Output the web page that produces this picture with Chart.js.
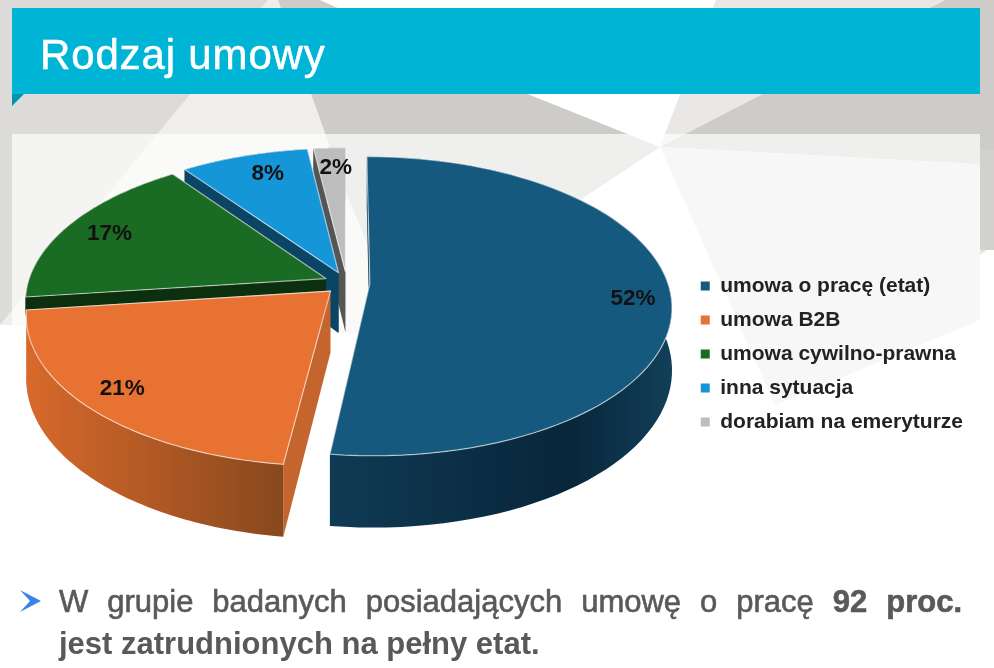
<!DOCTYPE html>
<html lang="pl">
<head>
<meta charset="utf-8">
<title>Rodzaj umowy</title>
<script src="https://cdn.jsdelivr.net/npm/chart.js@4/dist/chart.umd.min.js"></script>
<style>
  html, body { margin: 0; padding: 0; background: #fff; }
  #slide { position: relative; width: 994px; height: 668px; overflow: hidden; font-family: "Liberation Sans", Arial, sans-serif; }
  #bg, #pie { position: absolute; left: 0; top: 0; }
  #title { position: absolute; left: 40px; top: 30px; color: #fff; font-size: 42px; line-height: 50px; letter-spacing: 0.85px; -webkit-text-stroke: 0.5px #fff; }
  .line { position: absolute; left: 59px; color: #595959; font-size: 31px; line-height: 40px; white-space: nowrap; }
  #line1 { top: 582px; width: 903px; white-space: normal; text-align: justify; text-align-last: justify; -webkit-text-stroke: 0.6px #595959; }
  #line2 { top: 624px; font-weight: bold; }
  b { font-weight: bold; }
</style>
</head>
<body>
<div id="slide">
  <svg id="bg" width="994" height="668">
    <rect width="994" height="668" fill="#fff"/>
    <polygon points="268,0 0,325 410,335 345,190 278,0" fill="#efeeec"/>
    <polygon points="0,0 268,0 0,325" fill="#dcdbd9"/>
    <polygon points="278,0 320,0 530,95 660,147 580,200 375,262 345,190" fill="#ceccc8"/>
    <polygon points="716,0 945,0 660,147" fill="#e9e8e6"/>
    <polygon points="945,0 994,0 994,165 660,147" fill="#ceccc8"/>
    <polygon points="660,147 994,165 994,245 980,255 980,320 775,405" fill="#e6e6e5"/>
    <rect x="980" y="150" width="14" height="100" fill="#d3d1ce"/>
    <rect x="12" y="134" width="968" height="534" fill="#fff" fill-opacity="0.68"/>
    <polygon points="12,94 12,106 24,94" fill="#0093b2"/>
    <rect x="12" y="8" width="968" height="86" fill="#00b4d6"/>
    <polygon points="20,590 41,601 20,612 30,601" fill="#3a85e8"/>
  </svg>
  <canvas id="pie" width="994" height="668"></canvas>
  <div id="title">Rodzaj umowy</div>
  <div class="line" id="line1">W grupie badanych posiadających umowę o pracę <b>92 proc.</b></div>
  <div class="line" id="line2">jest zatrudnionych na pełny etat.</div>
</div>
<script>
const categories = ["umowa o pracę (etat)", "umowa B2B", "umowa cywilno-prawna", "inna sytuacja", "dorabiam na emeryturze"];
const shares = [52, 21, 17, 8, 2];
const topColors = ["#155a7e", "#e87231", "#1a6b23", "#1596d8", "#bdbdbd"];
const cutColors = ["#0e3850", "#c4652d", "#0c2f0e", "#0b4565", "#555555"];
const wallLeft = ["#0f3a54", "#d8692b", "#0c2f0e", "#0b4565", "#555555"];
const wallRight = ["#08263a", "#88481e", "#0c2f0e", "#0b4565", "#555555"];
// z tyłu do przodu
const drawOrder = [4, 3, 2, 0, 1];
// zielony: widać tylko wąski pasek ściany, reszta jest schowana za pomarańczowym
const wallHeight = [1, 1, 0.3, 1, 1];
const labelNudge = [[8, 7], [-8, 0], [3, 2], [11, 2], [4, 3]];

const tilt = 0.49;
const persp = 0.15;
const depth = 61;
const pieCenterY = 283;
const labelAt = 0.85;

function project(arc, angle, f, z) {
  const R = arc.outerRadius;
  const mid = (arc.startAngle + arc.endAngle) / 2;
  const off = arc.options.offset;
  const u = (f * R * Math.cos(angle) + off * Math.cos(mid)) / R;
  const v = (f * R * Math.sin(angle) + off * Math.sin(mid)) / R;
  const s = 1 / (1 - persp * v);
  return { x: arc.x + R * u * s, y: pieCenterY + R * tilt * v * s + z * depth * s };
}

function rimPoints(arc, z) {
  const pts = [];
  const n = 80;
  for (let i = 0; i <= n; i++) {
    const a = arc.startAngle + (arc.endAngle - arc.startAngle) * i / n;
    pts.push(project(arc, a, 1, z));
  }
  return pts;
}

function fillPoly(ctx, pts, fill, stroke) {
  ctx.beginPath();
  pts.forEach((p, i) => i ? ctx.lineTo(p.x, p.y) : ctx.moveTo(p.x, p.y));
  ctx.closePath();
  ctx.fillStyle = fill;
  ctx.fill();
  if (stroke) {
    ctx.strokeStyle = stroke;
    ctx.lineWidth = 1.2;
    ctx.stroke();
  }
}

const pie3d = {
  id: "pie3d",
  beforeDatasetDraw(chart) {
    const ctx = chart.ctx;
    const arcs = chart.getDatasetMeta(0).data;
    ctx.save();
    ctx.lineJoin = "round";
    drawOrder.forEach(i => {
      const arc = arcs[i];
      const h = wallHeight[i];
      const top = rimPoints(arc, 0);
      const bottom = rimPoints(arc, h);
      const last = top.length - 1;
      const apex = project(arc, arc.startAngle, 0, 0);
      const apexLow = project(arc, arc.startAngle, 0, h);
      // ściany cięcia
      fillPoly(ctx, [apex, top[0], bottom[0], apexLow], cutColors[i]);
      if (i === 1) {
        fillPoly(ctx, [apex, top[last], bottom[last]], cutColors[i], "rgba(255,255,255,0.5)");
      } else {
        fillPoly(ctx, [apex, top[last], bottom[last], apexLow], cutColors[i]);
      }
      // ściana zewnętrzna
      const xs = top.map(p => p.x);
      const grad = ctx.createLinearGradient(Math.min(...xs), 0, Math.max(...xs), 0);
      if (i === 0) {
        grad.addColorStop(0, wallLeft[i]);
        grad.addColorStop(0.7, wallRight[i]);
        grad.addColorStop(1, "#113f59");
      } else {
        grad.addColorStop(0, wallLeft[i]);
        grad.addColorStop(1, wallRight[i]);
      }
      fillPoly(ctx, top.concat(bottom.slice().reverse()), grad);
      // wierzch
      fillPoly(ctx, [apex].concat(top), topColors[i], "rgba(255,255,255,0.6)");
    });
    // etykiety
    ctx.fillStyle = "#111";
    ctx.font = "bold 22.5px 'Liberation Sans', Arial, sans-serif";
    ctx.textAlign = "center";
    ctx.textBaseline = "middle";
    arcs.forEach((arc, i) => {
      const p = project(arc, (arc.startAngle + arc.endAngle) / 2, labelAt, 0);
      ctx.fillText(shares[i] + "%", p.x + labelNudge[i][0], p.y + labelNudge[i][1]);
    });
    ctx.restore();
    return false;
  }
};

new Chart(document.getElementById("pie"), {
  type: "pie",
  data: {
    labels: categories,
    datasets: [{
      data: shares,
      backgroundColor: topColors,
      borderWidth: 0,
      offset: 23
    }]
  },
  options: {
    responsive: false,
    animation: false,
    radius: 298,
    layout: { padding: { top: 40, right: 21, left: 6 } },
    plugins: {
      tooltip: { enabled: false },
      legend: {
        position: "right",
        labels: {
          boxWidth: 9,
          boxHeight: 9,
          padding: 13,
          color: "#222",
          font: { family: "'Liberation Sans', Arial, sans-serif", size: 21, weight: "bold" }
        }
      }
    }
  },
  plugins: [pie3d]
});
</script>
</body>
</html>
